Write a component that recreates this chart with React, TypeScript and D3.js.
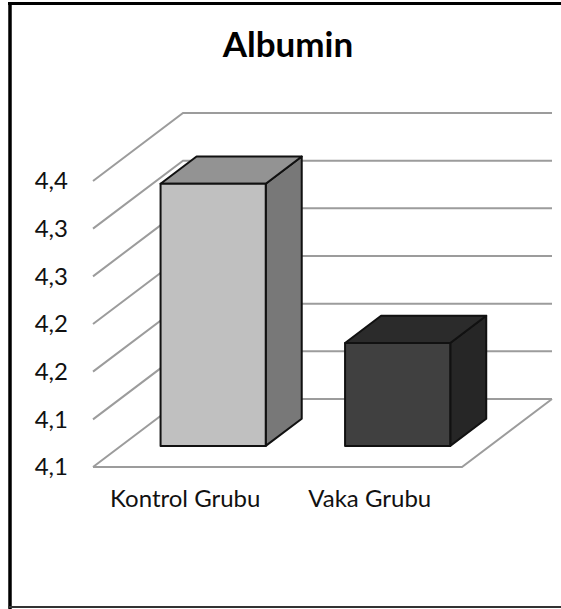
import React from "react";
import * as d3 from "d3";

const categories = ["Kontrol Grubu", "Vaka Grubu"];
const values = [4.325, 4.158];
const tickValues = [4.05, 4.1, 4.15, 4.2, 4.25, 4.3, 4.35];
const title = "Albumin";
const frontColors = ["#c0c0c0", "#404040"];
const topColors = ["#939393", "#2b2b2b"];
const sideColors = ["#787878", "#262626"];

const W = 561;
const H = 609;
const x0 = 93;
const floorY = 467;
const plotW = 369;
const depthDX = 90;
const depthDY = 68;
const barFront = 0.31;
const barBack = 0.71;
const barFrac = 0.57;

export default function App() {
  const y = d3.scaleLinear().domain([4.05, 4.35]).range([0, 286]);
  const x = d3.scaleBand<string>().domain(categories).range([0, plotW]).padding(0);
  const P = (px: number, depth: number, v: number): [number, number] => [
    x0 + px + depth * depthDX,
    floorY - depth * depthDY - y(v),
  ];
  const pts = (a: [number, number][]) => a.map((p) => p.join(",")).join(" ");
  const fmt = (v: number) => (Math.round(v * 10 + 1e-9) / 10).toFixed(1).replace(".", ",");
  const grid = "#9c9c9c";

  return (
    <svg width={W} height={H} style={{ position: "absolute", left: 0, top: 0 }}>
      <rect x={0} y={0} width={W} height={H} fill="#fff" />
      {/* border */}
      <line x1={10} y1={2} x2={10} y2={H} stroke="#000" strokeWidth={3.5} />
      <line x1={8} y1={3.5} x2={W} y2={3.5} stroke="#000" strokeWidth={3} />
      <line x1={8} y1={607} x2={W} y2={607} stroke="#333" strokeWidth={2} />
      <text x={288} y={57} textAnchor="middle" fontFamily="Lato, 'Open Sans', sans-serif" fontWeight="bold" fontSize={35} fill="#000">
        {title}
      </text>
      {/* walls gridlines */}
      {tickValues.map((t, i) => {
        const a = P(0, 0, t);
        const b = P(0, 1, t);
        const c = P(plotW, 1, t);
        return (
          <polyline key={i} points={pts([a, b, c])} fill="none" stroke={grid} strokeWidth={2} />
        );
      })}
      {/* floor */}
      <polyline
        points={pts([P(0, 0, 4.05), P(plotW, 0, 4.05), P(plotW, 1, 4.05)])}
        fill="none"
        stroke={grid}
        strokeWidth={2}
      />
      {/* y labels */}
      {tickValues.map((t, i) => {
        const a = P(0, 0, t);
        return (
          <text key={i} x={68} y={a[1]} dy="0.35em" textAnchor="end" fontFamily="Lato, sans-serif" fontSize={24} fill="#111">
            {fmt(t)}
          </text>
        );
      })}
      {/* bars */}
      {categories.map((c, i) => {
        const cx = (x(c) as number) + x.bandwidth() / 2;
        const bw = x.bandwidth() * barFrac;
        const l = cx - bw / 2;
        const r = cx + bw / 2;
        const v = values[i];
        const base = 4.05;
        const front: [number, number][] = [P(l, barFront, base), P(r, barFront, base), P(r, barFront, v), P(l, barFront, v)];
        const top: [number, number][] = [P(l, barFront, v), P(r, barFront, v), P(r, barBack, v), P(l, barBack, v)];
        const side: [number, number][] = [P(r, barFront, base), P(r, barBack, base), P(r, barBack, v), P(r, barFront, v)];
        return (
          <g key={c} stroke="#111" strokeWidth={2} strokeLinejoin="round">
            <polygon points={pts(side)} fill={sideColors[i]} />
            <polygon points={pts(top)} fill={topColors[i]} />
            <polygon points={pts(front)} fill={frontColors[i]} />
          </g>
        );
      })}
      {/* x labels */}
      {categories.map((c) => {
        const cx = x0 + (x(c) as number) + x.bandwidth() / 2;
        return (
          <text key={c} x={cx} y={507} textAnchor="middle" fontFamily="Lato, sans-serif" fontSize={24} fill="#111">
            {c}
          </text>
        );
      })}
    </svg>
  );
}
